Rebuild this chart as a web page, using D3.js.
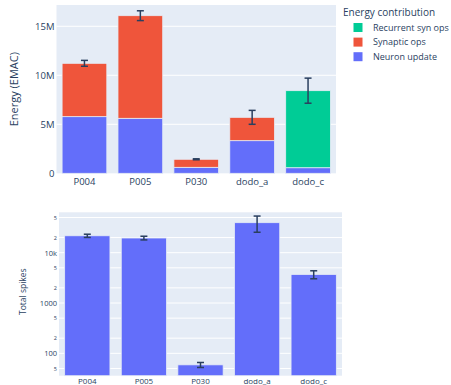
<!DOCTYPE html>
<html>
<head>
<meta charset="utf-8">
<script src="https://cdn.jsdelivr.net/npm/d3@7"></script>
<style>
  html, body { margin: 0; padding: 0; background: #fff; }
  svg { display: block; font-family: "Open Sans", "Noto Sans", sans-serif; }
</style>
</head>
<body>
<svg id="chart" width="451" height="385"></svg>
<script>
// Runs compared in both panels
const categories = ["P004", "P005", "P030", "dodo_a", "dodo_c"];

// Energy per contribution, in millions of EMAC
const neuronUpdate = [5.78, 5.61, 0.61, 3.33, 0.57];
const synapticOps = [5.44, 10.47, 0.82, 2.38, 0];
const recurrentSynOps = [0, 0, 0, 0, 7.86];
const energyError = [0.30, 0.50, 0.05, 0.71, 1.28];

// Total spikes per run
const totalSpikes = [21700, 19600, 59, 39500, 3700];
const spikesError = [1600, 1650, 6.7, 14000, 670];

// Tick values
const energyTicks = [0, 5, 10, 15];
const spikeTicks = [50, 100, 200, 500, 1000, 2000, 5000, 10000, 20000, 50000];

const series = [
  { name: "Neuron update", values: neuronUpdate, color: "#636EFA" },
  { name: "Synaptic ops", values: synapticOps, color: "#EF553B" },
  { name: "Recurrent syn ops", values: recurrentSynOps, color: "#00CC96" }
];

const ink = "#2a3f5f";
const plotBg = "#E5ECF6";
const svg = d3.select("#chart");

// ---------- Energy panel (stacked bars) ----------
const boxE = { left: 56.5, right: 336, top: 5, bottom: 173.3 };
const xE = d3.scaleBand().domain(categories).range([boxE.left, boxE.right]).paddingInner(0.2).paddingOuter(0.1);
const yE = d3.scaleLinear().domain([0, 17.17]).range([boxE.bottom, boxE.top]);

const gE = svg.append("g");
gE.append("rect").attr("x", boxE.left).attr("y", boxE.top)
  .attr("width", boxE.right - boxE.left).attr("height", boxE.bottom - boxE.top).attr("fill", plotBg);

gE.append("g").selectAll("line").data(energyTicks.filter(d => d > 0)).join("line")
  .attr("x1", boxE.left).attr("x2", boxE.right)
  .attr("y1", d => yE(d)).attr("y2", d => yE(d))
  .attr("stroke", "#fff").attr("stroke-width", 1);

const stackData = categories.map((c, i) => {
  const row = { cat: c };
  series.forEach(s => { row[s.name] = s.values[i]; });
  return row;
});
const stacked = d3.stack().keys(series.map(s => s.name))(stackData);

stacked.forEach((layer, li) => {
  gE.append("g").selectAll("rect").data(layer.filter(d => d[1] - d[0] > 0)).join("rect")
    .attr("x", d => xE(d.data.cat))
    .attr("width", xE.bandwidth())
    .attr("y", d => yE(d[1]))
    .attr("height", d => yE(d[0]) - yE(d[1]))
    .attr("fill", series[li].color)
    .attr("stroke", plotBg).attr("stroke-width", 0.8);
});

const totals = categories.map((c, i) => neuronUpdate[i] + synapticOps[i] + recurrentSynOps[i]);
const errE = gE.append("g").attr("stroke", ink).attr("stroke-width", 1.5);
categories.forEach((c, i) => {
  const cx = xE(c) + xE.bandwidth() / 2;
  const hi = yE(totals[i] + energyError[i]), lo = yE(totals[i] - energyError[i]);
  errE.append("line").attr("x1", cx).attr("x2", cx).attr("y1", hi).attr("y2", lo);
  errE.append("line").attr("x1", cx - 3.5).attr("x2", cx + 3.5).attr("y1", hi).attr("y2", hi);
  errE.append("line").attr("x1", cx - 3.5).attr("x2", cx + 3.5).attr("y1", lo).attr("y2", lo);
});

const axEy = gE.append("g").attr("transform", `translate(${boxE.left - 2},0)`)
  .call(d3.axisLeft(yE).tickValues(energyTicks).tickSize(0).tickPadding(0)
    .tickFormat(d => d === 0 ? "0" : d + "M"));
axEy.select(".domain").remove();
axEy.selectAll("text").attr("fill", ink).style("font-size", "9.5px").style("font-family", "'Open Sans'");

const axEx = gE.append("g").attr("transform", `translate(0,${boxE.bottom + 5})`)
  .call(d3.axisBottom(xE).tickSize(0).tickPadding(0));
axEx.select(".domain").remove();
axEx.selectAll("text").attr("fill", ink).style("font-size", "9.5px").style("font-family", "'Open Sans'");

gE.append("text").attr("transform", `translate(17.5,${(boxE.top + boxE.bottom) / 2}) rotate(-90)`)
  .attr("text-anchor", "middle").attr("fill", ink).style("font-size", "11px")
  .text("Energy (EMAC)");

// Legend
const legend = svg.append("g");
legend.append("text").attr("x", 343).attr("y", 16).attr("fill", ink).style("font-size", "10px")
  .text("Energy contribution");
series.slice().reverse().forEach((s, i) => {
  const cy = 27.5 + i * 14.6;
  legend.append("rect").attr("x", 353.5).attr("y", cy - 4.5).attr("width", 9).attr("height", 9)
    .attr("fill", s.color);
  legend.append("text").attr("x", 373).attr("y", cy + 3.2).attr("fill", ink).style("font-size", "9px")
    .text(s.name);
});

// ---------- Spikes panel (log scale) ----------
const boxS = { left: 59, right: 342, top: 212.3, bottom: 375.7 };
const xS = d3.scaleBand().domain(categories).range([boxS.left, boxS.right]).paddingInner(0.2).paddingOuter(0.1);
const yS = d3.scaleLog().domain([Math.pow(10, 1.555), Math.pow(10, 4.803)]).range([boxS.bottom, boxS.top]);

const gS = svg.append("g");
gS.append("rect").attr("x", boxS.left).attr("y", boxS.top)
  .attr("width", boxS.right - boxS.left).attr("height", boxS.bottom - boxS.top).attr("fill", plotBg);

gS.append("g").selectAll("line").data(spikeTicks).join("line")
  .attr("x1", boxS.left).attr("x2", boxS.right)
  .attr("y1", d => yS(d)).attr("y2", d => yS(d))
  .attr("stroke", "#fff").attr("stroke-width", 1);

gS.append("g").selectAll("rect").data(categories).join("rect")
  .attr("x", d => xS(d))
  .attr("width", xS.bandwidth())
  .attr("y", (d, i) => yS(totalSpikes[i]))
  .attr("height", (d, i) => boxS.bottom - yS(totalSpikes[i]))
  .attr("fill", "#636EFA")
  .attr("stroke", plotBg).attr("stroke-width", 0.8);

const errS = gS.append("g").attr("stroke", ink).attr("stroke-width", 1.5);
categories.forEach((c, i) => {
  const cx = xS(c) + xS.bandwidth() / 2;
  const hi = yS(totalSpikes[i] + spikesError[i]), lo = yS(totalSpikes[i] - spikesError[i]);
  errS.append("line").attr("x1", cx).attr("x2", cx).attr("y1", hi).attr("y2", lo);
  errS.append("line").attr("x1", cx - 3.5).attr("x2", cx + 3.5).attr("y1", hi).attr("y2", hi);
  errS.append("line").attr("x1", cx - 3.5).attr("x2", cx + 3.5).attr("y1", lo).attr("y2", lo);
});

const isMajor = d => Math.abs(Math.log10(d) - Math.round(Math.log10(d))) < 1e-9;
const spikeLabel = d => {
  if (!isMajor(d)) return String(d).charAt(0);
  return d >= 10000 ? (d / 1000) + "k" : String(d);
};
const axSy = gS.append("g").attr("transform", `translate(${boxS.left - 2},0)`)
  .call(d3.axisLeft(yS).tickValues(spikeTicks).tickSize(0).tickPadding(0).tickFormat(spikeLabel));
axSy.select(".domain").remove();
axSy.selectAll("text").attr("fill", ink).style("font-family", "'Open Sans'")
  .style("font-size", d => isMajor(d) ? "7.5px" : "5.5px");

const axSx = gS.append("g").attr("transform", `translate(0,${boxS.bottom + 2.5})`)
  .call(d3.axisBottom(xS).tickSize(0).tickPadding(0));
axSx.select(".domain").remove();
axSx.selectAll("text").attr("fill", ink).style("font-size", "8px").style("font-family", "'Open Sans'");

gS.append("text").attr("transform", `translate(26,${291.7}) rotate(-90)`)
  .attr("text-anchor", "middle").attr("fill", ink).style("font-size", "8.5px")
  .text("Total spikes");
</script>
</body>
</html>
